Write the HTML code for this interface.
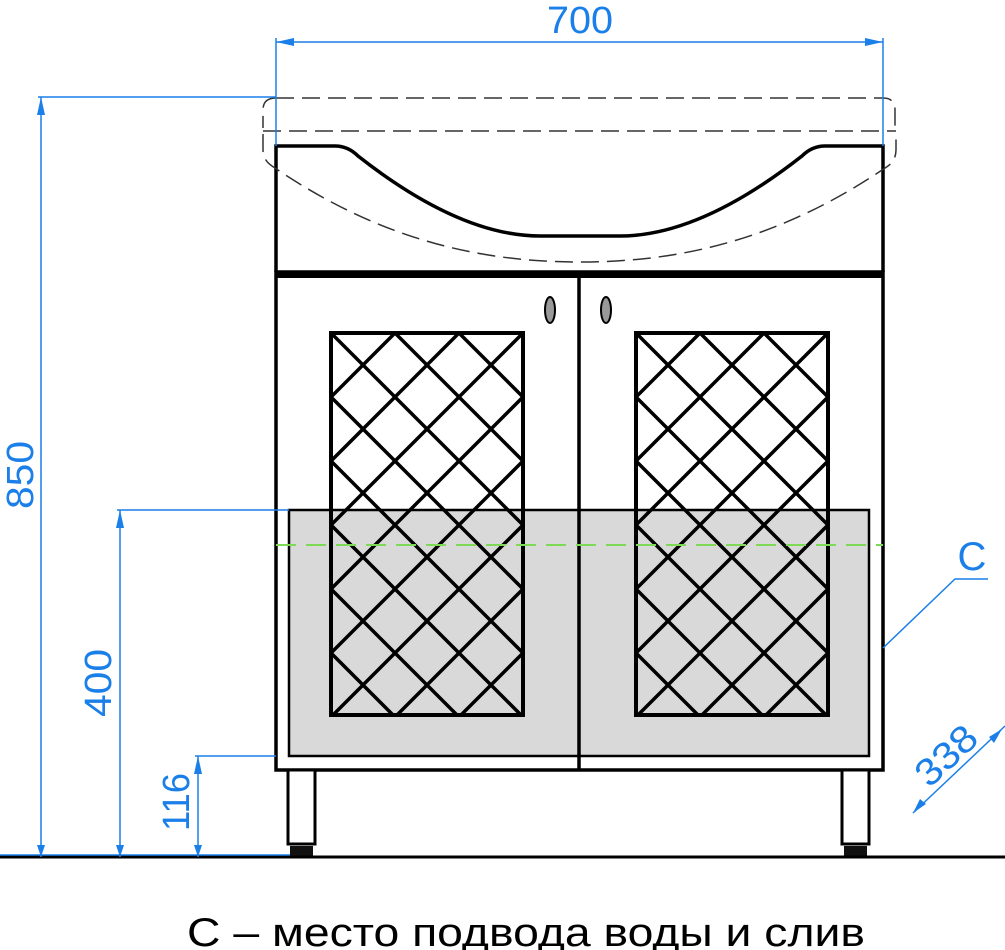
<!DOCTYPE html>
<html><head><meta charset="utf-8"><style>html,body{margin:0;padding:0;background:#fff}svg{display:block}</style></head>
<body>
<svg width="1005" height="950" viewBox="0 0 1005 950" xmlns="http://www.w3.org/2000/svg">
<defs>
<clipPath id="cl"><rect x="331" y="333" width="192" height="382"/></clipPath>
<clipPath id="cr"><rect x="636" y="333" width="192" height="382"/></clipPath>
</defs>
<!-- gray area -->
<rect x="289" y="510" width="580" height="246" fill="#d9d9d9" stroke="#000" stroke-width="2.5"/>
<!-- cabinet -->
<path d="M276 272V146H335Q348 146 358 156Q460 236 540 236H620Q700 236 802 156Q812 146 825 146H883V272" fill="none" stroke="#000" stroke-width="3.5"/>
<rect x="276" y="272" width="607" height="498" fill="none" stroke="#000" stroke-width="3.5"/>
<rect x="276" y="272" width="607" height="6" fill="#000"/>
<line x1="579" y1="278" x2="579" y2="770" stroke="#000" stroke-width="3.5"/>
<ellipse cx="550" cy="310" rx="5" ry="13" fill="#999" stroke="#000" stroke-width="2"/>
<ellipse cx="606" cy="310" rx="5" ry="13" fill="#999" stroke="#000" stroke-width="2"/>
<!-- lattice panels -->
<g clip-path="url(#cl)" stroke="#000" stroke-width="3.5">
<path id="latl" d="M-181 333l400 400M-117 333l400 400M-53 333l400 400M11 333l400 400M75 333l400 400M139 333l400 400M203 333l400 400M267 333l400 400M331 333l400 400M395 333l400 400M459 333l400 400M523 333l400 400
M331 333l-400 400M395 333l-400 400M459 333l-400 400M523 333l-400 400M587 333l-400 400M651 333l-400 400M715 333l-400 400M779 333l-400 400M843 333l-400 400M907 333l-400 400M971 333l-400 400M1035 333l-400 400"/>
</g>
<g clip-path="url(#cr)" stroke="#000" stroke-width="3.5">
<path transform="translate(305 0)" d="M-181 333l400 400M-117 333l400 400M-53 333l400 400M11 333l400 400M75 333l400 400M139 333l400 400M203 333l400 400M267 333l400 400M331 333l400 400M395 333l400 400M459 333l400 400M523 333l400 400
M331 333l-400 400M395 333l-400 400M459 333l-400 400M523 333l-400 400M587 333l-400 400M651 333l-400 400M715 333l-400 400M779 333l-400 400M843 333l-400 400M907 333l-400 400M971 333l-400 400M1035 333l-400 400"/>
</g>
<rect x="331" y="333" width="192" height="382" fill="none" stroke="#000" stroke-width="4"/>
<rect x="636" y="333" width="192" height="382" fill="none" stroke="#000" stroke-width="4"/>
<!-- legs -->
<rect x="288" y="770" width="27" height="74" fill="#fff" stroke="#000" stroke-width="3"/>
<rect x="842" y="770" width="27" height="74" fill="#fff" stroke="#000" stroke-width="3"/>
<rect x="290" y="846" width="23" height="10" fill="#111"/>
<rect x="844" y="846" width="23" height="10" fill="#111"/>
<line x1="0" y1="857" x2="1005" y2="857" stroke="#000" stroke-width="3"/>
<!-- dashed countertop -->
<g fill="none" stroke="#333" stroke-width="1.5" stroke-dasharray="18,8">
<path d="M276 98H883Q895 98 895 110V128"/>
<path d="M276 98Q263 98 263 110V128"/>
<line x1="263" y1="131" x2="896" y2="131"/>
<path d="M263 134V150Q263 160 272 166C380 240 480 262 580 262C680 262 780 240 888 166Q896 160 896 150V134"/>
</g>
<!-- green dashed -->
<line x1="276" y1="545" x2="883" y2="545" stroke="#7ed957" stroke-width="2" stroke-dasharray="20,10"/>
<!-- dimensions -->
<g stroke="#1a7fe8" stroke-width="1.5" fill="none">
<line x1="276" y1="38" x2="276" y2="146"/><line x1="883" y1="38" x2="883" y2="146"/>
<line x1="276" y1="42" x2="883" y2="42"/>
<line x1="38" y1="97" x2="276" y2="97"/>
<line x1="41" y1="97" x2="41" y2="857"/>
<line x1="117" y1="510" x2="289" y2="510"/>
<line x1="120" y1="510" x2="120" y2="857"/>
<line x1="195" y1="756" x2="276" y2="756"/>
<line x1="198" y1="756" x2="198" y2="857"/>
<line x1="0" y1="855" x2="290" y2="855"/>
<polyline points="883,648 955,579 988,579"/>
<line x1="913" y1="813" x2="1005" y2="726"/>
</g>
<g fill="#1a7fe8">
<path d="M276 42l18-4v8zM883 42l-18-4v8z"/>
<path d="M41 97l-4 18h8zM41 857l-4-12h8z"/>
<path d="M120 510l-4 18h8zM120 857l-4-12h8z"/>
<path d="M198 756l-4 18h8zM198 857l-4-12h8z"/>
<path d="M913 813l7-14l6 5zM1002 729l-13 8l5 6z"/>
</g>
<g fill="#1a7fe8" font-family="Liberation Sans, sans-serif" font-size="38">
<text x="580" y="33" text-anchor="middle" textLength="66" lengthAdjust="spacingAndGlyphs">700</text>
<text transform="translate(33 475) rotate(-90)" text-anchor="middle" textLength="68" lengthAdjust="spacingAndGlyphs">850</text>
<text transform="translate(111 683) rotate(-90)" text-anchor="middle" textLength="68" lengthAdjust="spacingAndGlyphs">400</text>
<text transform="translate(189 802) rotate(-90)" text-anchor="middle" textLength="58" lengthAdjust="spacingAndGlyphs">116</text>
<text transform="translate(955 765) rotate(-43)" text-anchor="middle" textLength="70" lengthAdjust="spacingAndGlyphs">338</text>
<text x="972" y="570" text-anchor="middle" font-size="40">С</text>
</g>
<text x="187" y="946" font-family="Liberation Sans, DejaVu Sans, sans-serif" font-size="40" textLength="678" lengthAdjust="spacingAndGlyphs" fill="#000">С – место подвода воды и слив</text>
</svg>
</body></html>
